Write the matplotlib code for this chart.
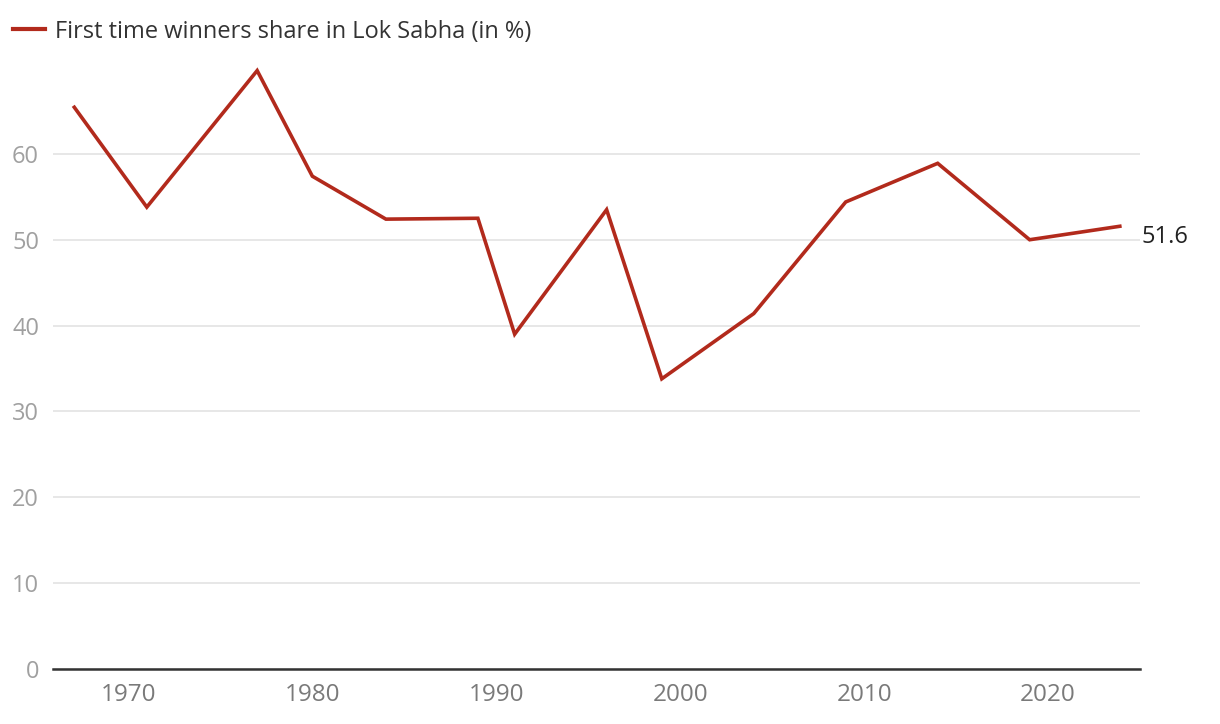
import matplotlib
matplotlib.use("Agg")
import matplotlib.pyplot as plt
from matplotlib.lines import Line2D

years = [1967, 1971, 1977, 1980, 1984, 1989, 1991, 1996, 1999, 2004, 2009, 2014, 2019, 2024]
share = [65.6, 53.8, 69.7, 57.4, 52.4, 52.5, 39.0, 53.5, 33.8, 41.4, 54.4, 58.9, 50.0, 51.6]
series_label = "First time winners share in Lok Sabha (in %)"
yticks = [0, 10, 20, 30, 40, 50, 60]
xticks = [1970, 1980, 1990, 2000, 2010, 2020]

plt.rcParams['font.family'] = ['Open Sans', 'DejaVu Sans']

W, H = 1220, 724
fig = plt.figure(figsize=(W / 100, H / 100), dpi=100)
left, right, bottom, top = 53, 1140, 669, 50
ax = fig.add_axes([left / W, 1 - bottom / H, (right - left) / W, (bottom - top) / H])

color = "#b22a1c"
ax.plot(years, share, color=color, lw=2.6, solid_joinstyle="miter", solid_capstyle="butt", zorder=3)
ax.set_xlim(1965.9, 2025.0)
ax.set_ylim(0, 72.1)

ax.set_yticks(yticks)
ax.set_xticks(xticks)
ax.yaxis.grid(True, color="#e3e3e3", lw=1.2)
ax.set_axisbelow(True)
for s in ["top", "right", "left"]:
    ax.spines[s].set_visible(False)
ax.spines["bottom"].set_color("#333333")
ax.spines["bottom"].set_linewidth(1.8)
ax.tick_params(axis="y", length=0, pad=10, labelsize=17, labelcolor="#a0a0a0")
ax.tick_params(axis="x", length=0, pad=10, labelsize=17.5, labelcolor="#7a7a7a")
for lab in ax.get_yticklabels():
    lab.set_horizontalalignment("right")

ax.annotate(f"{share[-1]:.1f}", xy=(years[-1], share[-1]), xytext=(14, -8),
            textcoords="offset points", ha="left", va="center", fontsize=17, color="#222222")

handle = Line2D([], [], color=color, lw=3)
fig.legend([handle], [series_label], loc="upper left", bbox_to_anchor=(8 / W, 1 - 15 / H),
           frameon=False, fontsize=17, handlelength=1.35, handletextpad=0.45,
           labelcolor="#333333", borderaxespad=0, borderpad=0.2)

fig.savefig("out.png", dpi=100)
